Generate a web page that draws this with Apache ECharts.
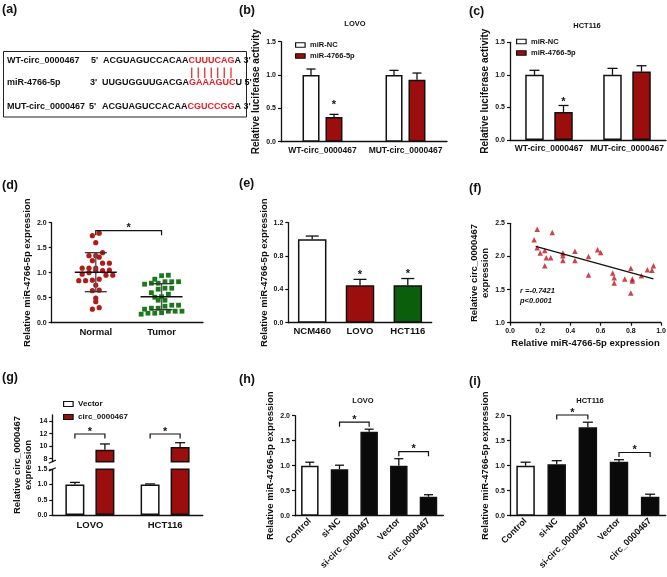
<!DOCTYPE html>
<html><head><meta charset="utf-8"><title>circ_0000467 / miR-4766-5p</title>
<script src="https://cdn.jsdelivr.net/npm/echarts@6/dist/echarts.min.js"></script>
<style>html,body{margin:0;padding:0;background:#fff;}#chart{width:667px;height:577px;}</style>
</head><body><div id="chart"></div>
<script>
// ---------------- data ----------------
const seqNames = ['WT-circ_0000467', 'miR-4766-5p', 'MUT-circ_0000467'];
const seqEnds = ["5'", "3'", "5'"];
const seqBlack = ['ACGUAGUCCACAA', 'UUGUGGUUGACGA', 'ACGUAGUCCACAA'];
const seqRed = ['CUUUCAG', 'GAAAGUC', 'CGUCCGG'];
const seqTail = ["A 3'", "U 5'", "A 3'"];

const lucCats = ['WT-circ_0000467', 'MUT-circ_0000467'];
const lucNames = ['miR-NC', 'miR-4766-5p'];
const lovoLucNC = [1.0, 1.0];
const lovoLucNCErr = [1.09, 1.07];
const lovoLucMiR = [0.37, 0.93];
const lovoLucMiRErr = [0.41, 1.03];
const hctLucNC = [1.0, 1.0];
const hctLucNCErr = [1.07, 1.10];
const hctLucMiR = [0.43, 1.05];
const hctLucMiRErr = [0.53, 1.14];
const lucSig = [true, false];

const tissueCats = ['Normal', 'Tumor'];
const normalVals = [1.79,1.74,1.60,1.34,1.40,1.31,1.34,1.19,1.24,1.19,1.09,1.04,1.05,1.09,1.04,1.09,0.95,0.97,0.95,1.00,0.85,0.84,0.87,0.84,0.75,0.64,0.65,0.49,0.42,0.30,0.27];
const tumorVals = [0.95,0.94,0.87,0.82,0.82,0.82,0.79,0.77,0.79,0.69,0.69,0.67,0.60,0.57,0.52,0.51,0.45,0.45,0.33,0.35,0.35,0.29,0.27,0.29,0.23,0.20,0.19,0.23,0.19,0.23,0.17];
const tissueMean = [1.01, 0.52];
const tissueSD = [0.39, 0.26];

const cellCats = ['NCM460', 'LOVO', 'HCT116'];
const cellVals = [1.0, 0.45, 0.45];
const cellErr = [1.04, 0.52, 0.53];
const cellSig = [false, true, true];

const corrX = [0.18,0.28,0.16,0.18,0.23,0.20,0.24,0.27,0.23,0.35,0.35,0.35,0.43,0.43,0.58,0.60,0.52,0.52,0.68,0.69,0.69,0.76,0.80,0.81,0.81,0.80,0.87,0.91,0.94,0.95];
const corrY = [2.41,2.36,2.25,2.13,2.09,2.05,1.98,1.98,1.86,2.05,2.01,1.94,2.08,1.94,2.10,2.06,2.00,1.72,1.75,1.68,1.60,1.66,1.82,1.66,1.63,1.45,1.71,1.80,1.79,1.86];
const corrFitX = [0.17, 0.95];
const corrFitY = [2.15, 1.66];
const corrText = ['r =-0.7421', 'p<0.0001'];

const ovCats = ['LOVO', 'HCT116'];
const ovNames = ['Vector', 'circ_0000467'];
const ovVector = [1.0, 1.0];
const ovVectorErr = [1.07, 1.02];
const ovCirc = [9.4, 9.85];
const ovCircErr = [10.35, 10.55];

const rescueCats = ['Control', 'si-NC', 'si-circ_0000467', 'Vector', 'circ_0000467'];
const lovoRescue = [1.0, 0.93, 1.68, 1.0, 0.38];
const lovoRescueErr = [1.07, 1.01, 1.73, 1.14, 0.42];
const hctRescue = [1.0, 1.03, 1.77, 1.08, 0.38];
const hctRescueErr = [1.07, 1.10, 1.87, 1.12, 0.43];
const rescuePairs = [[1, 2], [3, 4]];

// ---------------- style ----------------
const INK = '#111';
const RED = '#9c0d0d';
const GREEN = '#0b5e0b';
const DOT_RED = '#b31b1b';
const DOT_GREEN = '#1c781c';
const SEQ_RED = '#ec1c24';
const FONT = 'Arial, "Liberation Sans", sans-serif';
const cellColors = ['#ffffff', RED, GREEN];
const rescueColors = ['#ffffff', '#0a0a0a', '#0a0a0a', '#0a0a0a', '#0a0a0a'];
const TICK_FS = 7;

// grid rectangles: left, top, width, height
const GRIDS = [
  [281, 41.7, 166, 100],     // b
  [510, 42.3, 156, 97.7],    // c
  [51.7, 222.7, 151.3, 100], // d
  [288.3, 222.7, 143.4, 100],// e
  [510, 223.3, 151, 99.4],   // f
  [52.3, 415, 150.4, 46.7],  // g upper
  [52.3, 469.3, 150.4, 45.7],// g lower
  [295, 415.7, 148.3, 100],  // h
  [510, 415.7, 155.7, 100]   // i
];

const fmt1 = v => (+v).toFixed(1);
const lineAx = {show: true, onZero: false, lineStyle: {color: INK, width: 1.3}};
function tickLab(size, extra) {
  return Object.assign({show: true, fontSize: size, fontWeight: 'bold', color: INK, fontFamily: FONT}, extra || {});
}
function valAxis(gi, min, max, interval, extra) {
  return Object.assign({
    type: 'value', gridIndex: gi, min: min, max: max, interval: interval,
    axisLine: lineAx,
    axisTick: {show: true, inside: false, length: 3, lineStyle: {color: INK, width: 1.2}},
    axisLabel: tickLab(TICK_FS, {margin: 5, formatter: fmt1}),
    splitLine: {show: false}
  }, extra || {});
}
function nameOpt(name, gap, size) {
  return {name: name, nameLocation: 'middle', nameGap: gap,
    nameTextStyle: {fontSize: size, fontWeight: 'bold', fontFamily: FONT, color: INK, lineHeight: Math.round(size * 1.15)}};
}
function catAxis(gi, data, size, extra) {
  return Object.assign({
    type: 'category', gridIndex: gi, data: data, boundaryGap: true,
    axisLine: lineAx, axisTick: {show: false},
    axisLabel: tickLab(size, {interval: 0, margin: 4}),
    splitLine: {show: false}
  }, extra || {});
}

// ---------------- custom renderers ----------------
function errSeries(ai, data, offset, cap) {
  return {type: 'custom', xAxisIndex: ai, yAxisIndex: ai, z: 6, silent: true, data: data,
    renderItem: function (p, api) {
      const b = api.coord([api.value(0), api.value(1)]);
      const t = api.coord([api.value(0), api.value(2)]);
      const x = b[0] + offset;
      return {type: 'group', children: [
        {type: 'line', shape: {x1: x, y1: b[1], x2: x, y2: t[1]}, style: {stroke: INK, lineWidth: 1.3}},
        {type: 'line', shape: {x1: x - cap, y1: t[1], x2: x + cap, y2: t[1]}, style: {stroke: INK, lineWidth: 1.3}}
      ]};
    }};
}
function starEl(x, yc) {
  return {type: 'text', x: x, y: yc + 2.6, style: {text: '*', fontSize: 11, fontWeight: 'bold', fontFamily: FONT, fill: INK, align: 'center', verticalAlign: 'middle'}};
}
function starSeries(ai, data, offset, gapPx) {
  return {type: 'custom', xAxisIndex: ai, yAxisIndex: ai, z: 6, silent: true, data: data,
    renderItem: function (p, api) {
      const c = api.coord([api.value(0), api.value(1)]);
      return starEl(c[0] + offset, c[1] - gapPx);
    }};
}
function bracketSeries(ai, data, offA, offB, gapPx, tick) {
  return {type: 'custom', xAxisIndex: ai, yAxisIndex: ai, z: 6, silent: true, data: data,
    encode: {x: 0, y: 2},
    renderItem: function (p, api) {
      const a = api.coord([api.value(0), api.value(2)]);
      const b = api.coord([api.value(1), api.value(2)]);
      const y = a[1] - gapPx, x1 = a[0] + offA, x2 = b[0] + offB;
      return {type: 'group', children: [
        {type: 'polyline', shape: {points: [[x1, y + tick], [x1, y], [x2, y], [x2, y + tick]]}, style: {stroke: INK, lineWidth: 1.2, fill: 'none'}},
        starEl((x1 + x2) / 2, y - 5)
      ]};
    }};
}
// scatter-dot layout: points falling in the same pixel row band are spread side by side
function rowOffsets(ys, y0, binH, spacing) {
  const rows = {};
  ys.forEach((y, i) => { const k = Math.floor((y0 - y) / binH); (rows[k] = rows[k] || []).push(i); });
  const out = [];
  Object.keys(rows).forEach(k => {
    const idx = rows[k].sort((a, b) => ys[b] - ys[a]);
    const n = idx.length;
    idx.forEach((i, j) => { out[i] = (j - (n - 1) / 2) * spacing; });
  });
  return out;
}
function swarmSeries(ai, vals, xpos, shape, color, size) {
  let layout = null;
  return {type: 'custom', xAxisIndex: ai, yAxisIndex: ai, z: 3, silent: true,
    data: vals.map(v => [xpos, v]),
    renderItem: function (p, api) {
      if (p.dataIndex === 0 || !layout) {
        const y0 = api.coord([xpos, 0])[1];
        layout = rowOffsets(vals.map(v => api.coord([xpos, v])[1]), y0, 6, 6.8);
      }
      const c = api.coord([xpos, api.value(1)]);
      const x = c[0] + layout[p.dataIndex], y = c[1];
      if (shape === 'circle') return {type: 'circle', shape: {cx: x, cy: y, r: size / 2}, style: {fill: color}};
      return {type: 'rect', shape: {x: x - size / 2, y: y - size / 2, width: size, height: size}, style: {fill: color}};
    }};
}
function meanSdSeries(ai, data) {
  return {type: 'custom', xAxisIndex: ai, yAxisIndex: ai, z: 7, silent: true, data: data,
    renderItem: function (p, api) {
      const m = api.coord([api.value(0), api.value(1)]);
      const hi = api.coord([api.value(0), api.value(1) + api.value(2)]);
      const lo = api.coord([api.value(0), api.value(1) - api.value(2)]);
      const x = m[0];
      return {type: 'group', children: [
        {type: 'line', shape: {x1: x, y1: hi[1], x2: x, y2: lo[1]}, style: {stroke: '#555', lineWidth: 1.4}},
        {type: 'line', shape: {x1: x - 11, y1: hi[1], x2: x + 11, y2: hi[1]}, style: {stroke: '#333', lineWidth: 1.3}},
        {type: 'line', shape: {x1: x - 11, y1: lo[1], x2: x + 11, y2: lo[1]}, style: {stroke: '#333', lineWidth: 1.3}},
        {type: 'line', shape: {x1: x - 21, y1: m[1], x2: x + 21, y2: m[1]}, style: {stroke: INK, lineWidth: 1.4}}
      ]};
    }};
}
function barSeries(ai, name, data, color, width, gap, extra) {
  return Object.assign({type: 'bar', name: name, xAxisIndex: ai, yAxisIndex: ai, data: data,
    barWidth: width, barGap: gap, clip: true, silent: true,
    itemStyle: {color: color, borderColor: INK, borderWidth: 1.5}}, extra || {});
}
const errData = (vals, errs) => vals.map((v, i) => [i, v, errs[i]]);

// ---------------- text measurement for panel (a) ----------------
const mctx = document.createElement('canvas').getContext('2d');
mctx.font = 'bold 9px Arial, "Liberation Sans", sans-serif';
const tw = s => mctx.measureText(s).width;

// ---------------- graphic ----------------
const G = [];
function txt(x, y, text, size, extra) {
  G.push({type: 'text', x: x, y: y, silent: true,
    style: Object.assign({text: text, fontSize: size, fontWeight: 'bold', fontFamily: FONT, fill: INK, align: 'left', verticalAlign: 'middle'}, extra || {})});
}
// panel letters
[['(a)', 2, 10], ['(b)', 239, 11], ['(c)', 469, 12], ['(d)', 2, 186], ['(e)', 239, 184], ['(f)', 469, 189],
 ['(g)', 2, 378], ['(h)', 239, 380], ['(i)', 469, 382]].forEach(l => txt(l[1], l[2], l[0], 12.5));
// panel (a) box
G.push({type: 'rect', silent: true, shape: {x: 3.5, y: 51.5, width: 243, height: 65.5}, style: {fill: 'none', stroke: '#222', lineWidth: 1}});
const rowY = [61, 83, 107];
const endX = [91, 90, 89];
const seqX = [103, 102, 102];
for (let r = 0; r < 3; r++) {
  txt(7, rowY[r], seqNames[r], 9);
  txt(endX[r], rowY[r], seqEnds[r], 9);
  const xb = seqX[r];
  txt(xb, rowY[r], seqBlack[r], 9);
  const xr = xb + tw(seqBlack[r]);
  txt(xr, rowY[r], seqRed[r], 9, {fill: SEQ_RED});
  txt(xr + tw(seqRed[r]), rowY[r], seqTail[r], 9);
  if (r === 0) {
    let cx = xr;
    for (const ch of seqRed[0]) {
      const w = tw(ch);
      G.push({type: 'line', silent: true, shape: {x1: cx + w / 2, y1: 67.5, x2: cx + w / 2, y2: 78}, style: {stroke: SEQ_RED, lineWidth: 1.2}});
      cx += w;
    }
  }
}
// titles
txt(355, 24, 'LOVO', 7.5, {align: 'center'});
txt(587, 26, 'HCT116', 7.5, {align: 'center'});
txt(363, 401, 'LOVO', 7.5, {align: 'center'});
txt(590, 401, 'HCT116', 7.5, {align: 'center'});
// correlation text
txt(520, 291, corrText[0], 7.5, {fontStyle: 'italic'});
txt(520, 300.5, corrText[1], 7.5, {fontStyle: 'italic'});
// (g) y title
G.push({type: 'text', x: 23, y: 465, rotation: Math.PI / 2, silent: true,
  style: {text: 'Relative circ_0000467\nexpression', fontSize: 9.5, fontWeight: 'bold', fontFamily: FONT, fill: INK, align: 'center', verticalAlign: 'middle', lineHeight: 11.5}});
// (g) axis break marks
[[GRIDS[5][0], GRIDS[5][1] + GRIDS[5][3]], [GRIDS[6][0], GRIDS[6][1]]].forEach(p => {
  G.push({type: 'line', silent: true, shape: {x1: p[0] - 3.5, y1: p[1] + 1.6, x2: p[0] + 3.5, y2: p[1] - 1.6}, style: {stroke: INK, lineWidth: 1.2}});
});

// ---------------- option ----------------
const tickVals = [8, 10, 12, 14];
const option = {
  animation: false,
  backgroundColor: '#ffffff',
  textStyle: {fontFamily: FONT},
  grid: GRIDS.map(g => ({left: g[0], top: g[1], width: g[2], height: g[3], containLabel: false, outerBoundsMode: 'none'})),
  xAxis: [
    catAxis(0, lucCats, 8.5),
    catAxis(1, lucCats, 8.5),
    {type: 'value', gridIndex: 2, min: 0.33, max: 2.63, axisLine: lineAx, axisTick: {show: false}, splitLine: {show: false},
      axisLabel: tickLab(9.5, {margin: 4.5, customValues: [1, 2], formatter: v => (Math.abs(v - Math.round(v)) < 1e-6 ? (tissueCats[Math.round(v) - 1] || '') : '')})},
    catAxis(3, cellCats, 9.5),
    Object.assign(valAxis(4, 0, 1, 0.2), nameOpt('Relative miR-4766-5p expression', 15, 9.5)),
    catAxis(5, ovCats, 9.5, {show: false}),
    catAxis(6, ovCats, 9.5, {axisLabel: tickLab(9.5, {interval: 0, margin: 5})}),
    catAxis(7, rescueCats, 9, {axisLabel: tickLab(9, {interval: 0, margin: 4, rotate: 45})}),
    catAxis(8, rescueCats, 9, {axisLabel: tickLab(9, {interval: 0, margin: 4, rotate: 45})})
  ],
  yAxis: [
    Object.assign(valAxis(0, 0, 1.5, 0.5), nameOpt('Relative luciferase activity', 11, 10)),
    Object.assign(valAxis(1, 0, 1.5, 0.5), nameOpt('Relative luciferase activity', 15, 10)),
    Object.assign(valAxis(2, 0, 2, 0.5), nameOpt('Relative miR-4766-5p expression', 14, 9.5)),
    Object.assign(valAxis(3, 0, 1.2, 0.4), nameOpt('Relative miR-4766-5p expression', 15, 9.5)),
    Object.assign(valAxis(4, 1, 2.5, 0.5), nameOpt('Relative circ_0000467\nexpression', 14, 9.5)),
    {type: 'value', gridIndex: 5, min: 7.5, max: 15, axisLine: lineAx, splitLine: {show: false},
      axisTick: {show: true, length: 3, customValues: tickVals, lineStyle: {color: INK, width: 1.2}},
      axisLabel: tickLab(TICK_FS, {margin: 5, customValues: tickVals, formatter: v => (tickVals.indexOf(+v) >= 0 ? String(v) : '')})},
    valAxis(6, 0, 1.5, 0.5),
    Object.assign(valAxis(7, 0, 2, 0.5), nameOpt('Relative miR-4766-5p expression', 12, 9.5)),
    Object.assign(valAxis(8, 0, 2, 0.5), nameOpt('Relative miR-4766-5p expression', 9, 9.5))
  ],
  legend: [
    {data: lucNames, orient: 'vertical', left: 295, top: 41, itemWidth: 9.5, itemHeight: 4.5, itemGap: 3, padding: 0, icon: 'rect', selectedMode: false,
      itemStyle: {borderColor: INK, borderWidth: 1.2}, textStyle: {fontSize: 7.5, fontWeight: 'bold', fontFamily: FONT, color: INK}},
    {data: lucNames, orient: 'vertical', left: 516, top: 37.5, itemWidth: 9.5, itemHeight: 4.5, itemGap: 3.5, padding: 0, icon: 'rect', selectedMode: false,
      itemStyle: {borderColor: INK, borderWidth: 1.2}, textStyle: {fontSize: 7.5, fontWeight: 'bold', fontFamily: FONT, color: INK}},
    {data: ovNames, orient: 'vertical', left: 63, top: 400, itemWidth: 9.5, itemHeight: 5, itemGap: 5, padding: 0, icon: 'rect', selectedMode: false,
      itemStyle: {borderColor: INK, borderWidth: 1.2}, textStyle: {fontSize: 8, fontWeight: 'bold', fontFamily: FONT, color: INK}}
  ],
  series: [
    // (b)
    barSeries(0, lucNames[0], lovoLucNC, '#ffffff', 17, '35%'),
    barSeries(0, lucNames[1], lovoLucMiR, RED, 17, '35%'),
    errSeries(0, errData(lovoLucNC, lovoLucNCErr), -11.5, 4.5),
    errSeries(0, errData(lovoLucMiR, lovoLucMiRErr), 11.5, 4.5),
    starSeries(0, lucSig.map((s, i) => s ? [i, lovoLucMiRErr[i]] : null).filter(Boolean), 11.5, 12),
    // (c)
    barSeries(1, lucNames[0], hctLucNC, '#ffffff', 18.5, '57%'),
    barSeries(1, lucNames[1], hctLucMiR, RED, 18.5, '57%'),
    errSeries(1, errData(hctLucNC, hctLucNCErr), -14.5, 5),
    errSeries(1, errData(hctLucMiR, hctLucMiRErr), 14.5, 5),
    starSeries(1, lucSig.map((s, i) => s ? [i, hctLucMiRErr[i]] : null).filter(Boolean), 14.5, 6),
    // (d)
    swarmSeries(2, normalVals, 1, 'circle', DOT_RED, 5.2),
    swarmSeries(2, tumorVals, 2, 'rect', DOT_GREEN, 4.8),
    meanSdSeries(2, tissueMean.map((m, i) => [i + 1, m, tissueSD[i]])),
    bracketSeries(2, [[1, 2, Math.max(...normalVals, ...tumorVals)]], 0, 0, 2.5, 4.5),
    // (e)
    barSeries(3, 'cells', cellVals.map((v, i) => ({value: v, itemStyle: {color: cellColors[i]}})), '#fff', 28.5, '0%'),
    errSeries(3, errData(cellVals, cellErr), 0, 6.5),
    starSeries(3, cellSig.map((s, i) => s ? [i, cellErr[i]] : null).filter(Boolean), 0, 7),
    // (f)
    {type: 'scatter', xAxisIndex: 4, yAxisIndex: 4, symbol: 'triangle', symbolSize: 5.5, silent: true,
      itemStyle: {color: '#c0141c'}, data: corrX.map((x, i) => [x, corrY[i]])},
    {type: 'line', xAxisIndex: 4, yAxisIndex: 4, symbol: 'none', silent: true, lineStyle: {color: INK, width: 1.3},
      data: corrFitX.map((x, i) => [x, corrFitY[i]])},
    // (g) upper
    barSeries(5, ovNames[0], ovVector.map(() => '-'), '#ffffff', 19, '58%'),
    barSeries(5, ovNames[1], ovCirc, RED, 19, '58%'),
    errSeries(5, errData(ovCirc, ovCircErr), 15, 5),
    bracketSeries(5, ovCats.map((c, i) => [i, i, Math.max(...ovCircErr, ...ovVectorErr)]), -15, 15, 8.7, 4.5),
    // (g) lower
    barSeries(6, ovNames[0], ovVector, '#ffffff', 19, '58%'),
    barSeries(6, ovNames[1], ovCirc, RED, 19, '58%'),
    errSeries(6, errData(ovVector, ovVectorErr), -15, 5),
    // (h)
    barSeries(7, 'LOVO rescue', lovoRescue.map((v, i) => ({value: v, itemStyle: {color: rescueColors[i]}})), '#000', 17.5, '0%'),
    errSeries(7, errData(lovoRescue, lovoRescueErr), 0, 4.5),
    bracketSeries(7, rescuePairs.map(pr => [pr[0], pr[1], Math.max(lovoRescueErr[pr[0]], lovoRescueErr[pr[1]])]), 0, 0, 7, 4.5),
    // (i)
    barSeries(8, 'HCT116 rescue', hctRescue.map((v, i) => ({value: v, itemStyle: {color: rescueColors[i]}})), '#000', 18.5, '0%'),
    errSeries(8, errData(hctRescue, hctRescueErr), 0, 5),
    bracketSeries(8, rescuePairs.map(pr => [pr[0], pr[1], Math.max(hctRescueErr[pr[0]], hctRescueErr[pr[1]])]), 0, 0, 7.2, 4.5)
  ],
  graphic: {elements: G}
};

const chart = echarts.init(document.getElementById('chart'), null, {renderer: 'canvas', width: 667, height: 577});
chart.setOption(option);
</script>
</body></html>
